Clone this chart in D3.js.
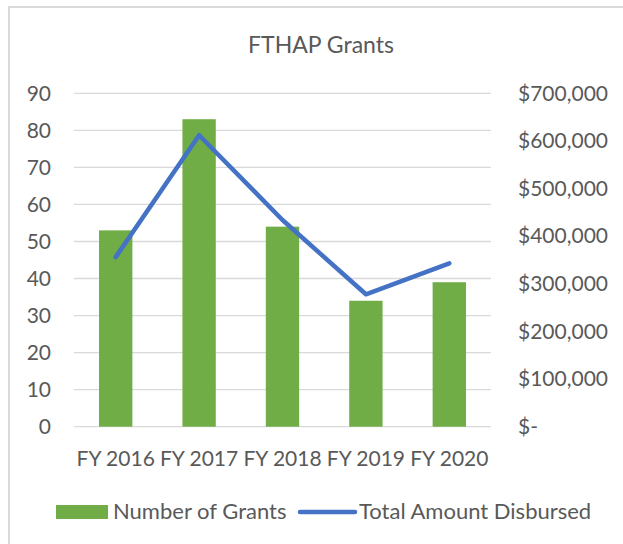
<!DOCTYPE html>
<html>
<head>
<meta charset="utf-8">
<script src="https://cdn.jsdelivr.net/npm/d3@7/dist/d3.min.js"></script>
<style>
  html, body { margin: 0; padding: 0; background: #fff; }
  svg { display: block; }
  text { font-family: Lato, "Open Sans", sans-serif; fill: #595959; }
</style>
</head>
<body>
<svg id="chart" width="623" height="544"></svg>
<script>
const categories = ["FY 2016", "FY 2017", "FY 2018", "FY 2019", "FY 2020"];
const grants = [53, 83, 54, 34, 39];
const amounts = [356000, 612000, 434000, 278000, 343000];
const leftTicks = [0, 10, 20, 30, 40, 50, 60, 70, 80, 90];
const rightTicks = [0, 100000, 200000, 300000, 400000, 500000, 600000, 700000];
const title = "FTHAP Grants";
const seriesNames = ["Number of Grants", "Total Amount Disbursed"];

const svg = d3.select("#chart");
const W = 623, H = 544;
const m = { left: 74, right: 491, top: 93.3, bottom: 426.7 };

// border
svg.append("rect").attr("x", 9).attr("y", 7).attr("width", W).attr("height", H)
  .attr("fill", "#fff").attr("stroke", "#d9d9d9").attr("stroke-width", 2);

const x = d3.scaleBand().domain(categories).range([m.left, m.right])
  .paddingInner(0.6).paddingOuter(0.3);
const yL = d3.scaleLinear().domain([0, 90]).range([m.bottom, m.top]);
const yR = d3.scaleLinear().domain([0, 700000]).range([m.bottom, m.top]);

// gridlines
svg.append("g").selectAll("line").data(leftTicks).join("line")
  .attr("x1", m.left).attr("x2", m.right)
  .attr("y1", d => yL(d)).attr("y2", d => yL(d))
  .attr("stroke", "#d9d9d9").attr("stroke-width", 1.3);

// title
svg.append("text").attr("x", 321).attr("y", 53).attr("text-anchor", "middle")
  .style("font-size", "23px").text(title);

// left axis
const axL = svg.append("g").attr("transform", `translate(${m.left - 23},0)`)
  .call(d3.axisLeft(yL).tickValues(leftTicks).tickSize(0).tickPadding(0));
axL.select(".domain").remove();
axL.selectAll("text").style("font-size", "21px").attr("fill", "#595959")
  .style("font-family", "Lato, sans-serif");

// right axis
const fmt = d => d === 0 ? "$-" : "$" + d3.format(",")(d);
const axR = svg.append("g").attr("transform", `translate(518,0)`)
  .call(d3.axisRight(yR).tickValues(rightTicks).tickFormat(fmt).tickSize(0).tickPadding(0));
axR.select(".domain").remove();
axR.selectAll("text").style("font-size", "21px").attr("fill", "#595959")
  .style("font-family", "Lato, sans-serif");

// bottom axis
const axB = svg.append("g").attr("transform", `translate(0,${m.bottom})`)
  .call(d3.axisBottom(x).tickSize(0).tickPadding(24));
axB.select(".domain").remove();
axB.selectAll("text").style("font-size", "21px").attr("fill", "#595959")
  .style("font-family", "Lato, sans-serif");

// bars
svg.append("g").selectAll("rect").data(categories).join("rect")
  .attr("x", d => x(d)).attr("width", x.bandwidth())
  .attr("y", (d, i) => yL(grants[i]))
  .attr("height", (d, i) => yL(0) - yL(grants[i]))
  .attr("fill", "#70AD47");

// line
const line = d3.line()
  .x((d, i) => x(categories[i]) + x.bandwidth() / 2)
  .y(d => yR(d));
svg.append("path").datum(amounts).attr("d", line)
  .attr("fill", "none").attr("stroke", "#4472C4").attr("stroke-width", 4.5)
  .attr("stroke-linecap", "round").attr("stroke-linejoin", "round");

// legend
const lg = svg.append("g");
lg.append("rect").attr("x", 56).attr("y", 505).attr("width", 52).attr("height", 14).attr("fill", "#70AD47");
lg.append("text").attr("x", 113).attr("y", 519).style("font-size", "22px").text(seriesNames[0]);
lg.append("line").attr("x1", 300).attr("x2", 355).attr("y1", 512).attr("y2", 512)
  .attr("stroke", "#4472C4").attr("stroke-width", 4.5).attr("stroke-linecap", "round");
lg.append("text").attr("x", 359).attr("y", 519).style("font-size", "22px").text(seriesNames[1]);
</script>
</body>
</html>
